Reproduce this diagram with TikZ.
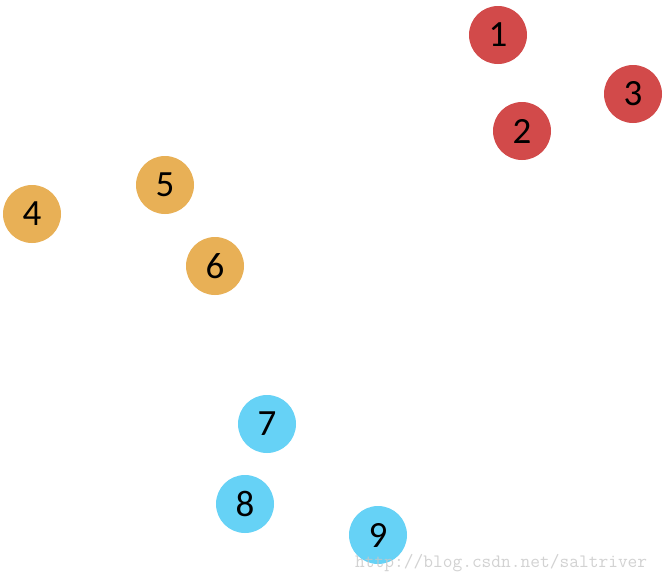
\documentclass[tikz,border=0pt]{standalone}
\usepackage{fontspec}
\setmainfont{Carlito}
\definecolor{cred}{HTML}{D24A4A}
\definecolor{corange}{HTML}{E8B056}
\definecolor{cblue}{HTML}{66D2F6}
\begin{document}
\begin{tikzpicture}[x=1pt,y=-1pt,
  ball/.style={circle,minimum size=58pt,inner sep=0pt,font=\fontsize{37}{37}\selectfont,text=black},
  redball/.style={ball,fill=cred},
  orangeball/.style={ball,fill=corange},
  blueball/.style={ball,fill=cblue}]
\useasboundingbox[fill=white] (0,0) rectangle (666,581);
\node[redball] (n1) at (498,35) {1};
\node[redball] (n2) at (522,131) {2};
\node[redball] (n3) at (633,94) {3};
\node[orangeball] (n4) at (32,214) {4};
\node[orangeball] (n5) at (165,185) {5};
\node[orangeball] (n6) at (215,266) {6};
\node[blueball] (n7) at (267,424) {7};
\node[blueball] (n8) at (245,504) {8};
\node[blueball] (n9) at (378,535) {9};
\node[anchor=base west,inner sep=0pt,text=black!22,opacity=0.8,font=\ttfamily\fontsize{18.9}{18.9}\selectfont] (wm) at (355,567) {http://blog.csdn.net/saltriver};
\end{tikzpicture}
\end{document}
